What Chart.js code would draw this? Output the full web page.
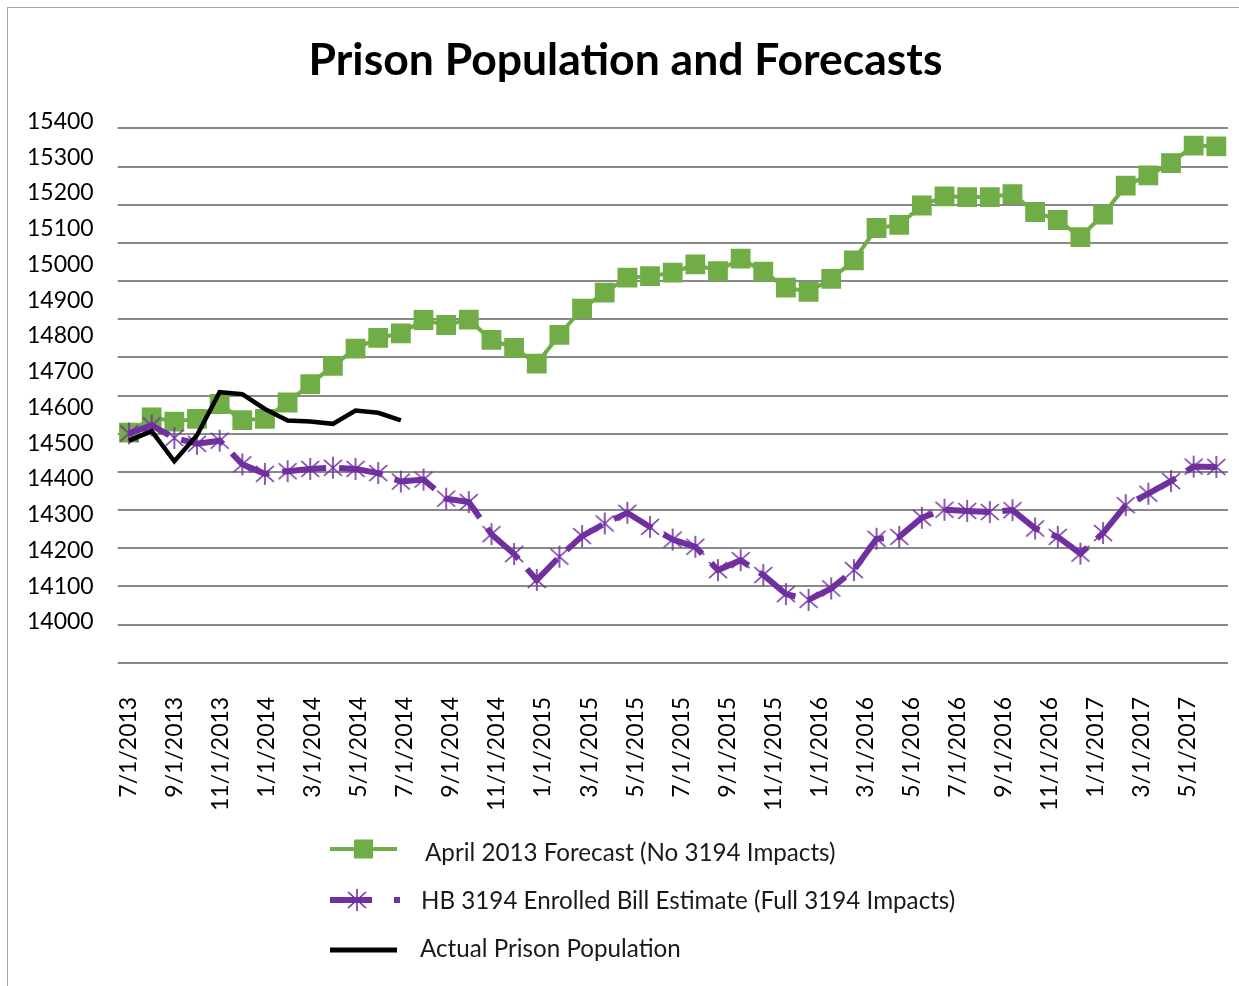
<!DOCTYPE html>
<html>
<head>
<meta charset="utf-8">
<script src="https://cdn.jsdelivr.net/npm/chart.js@4.4.1/dist/chart.umd.min.js"></script>
<style>
  body { margin: 0; background: #fff; overflow: hidden; font-family: Lato, sans-serif; }
  #wrap { position: relative; width: 1239px; height: 986px; overflow: hidden; }
  #frame { position: absolute; left: 7px; top: 7px; width: 1300px; height: 1100px; border: 1px solid #a6a6a6; }
  #chart { position: absolute; left: 0; top: 0; }
  .sample { position: absolute; left: 330px; }
  .legtext { position: absolute; height: 30px; line-height: 30px; font-size: 24.2px; color: #1a1a1a; white-space: nowrap; }
</style>
</head>
<body>
<div id="wrap">
  <div id="frame"></div>
  <canvas id="chart" width="1250" height="986"></canvas>

  <svg class="sample" style="top:834px" width="70" height="30">
    <line x1="0" y1="15" x2="67" y2="15" stroke="#70AD47" stroke-width="4"/>
    <rect x="24" y="5.5" width="19" height="19" fill="#70AD47"/>
  </svg>
  <div class="legtext" style="left:425px; top:837px">April 2013 Forecast (No 3194 Impacts)</div>

  <svg class="sample" style="top:885px" width="75" height="30">
    <line x1="0" y1="15" x2="42" y2="15" stroke="#7030A0" stroke-width="6"/>
    <line x1="27" y1="4" x2="27" y2="26" stroke="#7030A0" stroke-width="1.6"/>
    <line x1="18" y1="7" x2="36" y2="23" stroke="#7030A0" stroke-width="1.6"/>
    <line x1="36" y1="7" x2="18" y2="23" stroke="#7030A0" stroke-width="1.6"/>
    <rect x="64" y="12" width="6" height="6" fill="#7030A0"/>
  </svg>
  <div class="legtext" style="left:421px; top:885px">HB 3194 Enrolled Bill Estimate (Full 3194 Impacts)</div>

  <svg class="sample" style="top:935px" width="70" height="30">
    <line x1="0" y1="15" x2="67" y2="15" stroke="#000" stroke-width="5"/>
  </svg>
  <div class="legtext" style="left:420px; top:933px">Actual Prison Population</div>
</div>

<script>
const dates = [
  "7/1/2013", "8/1/2013", "9/1/2013", "10/1/2013", "11/1/2013", "12/1/2013",
  "1/1/2014", "2/1/2014", "3/1/2014", "4/1/2014", "5/1/2014", "6/1/2014",
  "7/1/2014", "8/1/2014", "9/1/2014", "10/1/2014", "11/1/2014", "12/1/2014",
  "1/1/2015", "2/1/2015", "3/1/2015", "4/1/2015", "5/1/2015", "6/1/2015",
  "7/1/2015", "8/1/2015", "9/1/2015", "10/1/2015", "11/1/2015", "12/1/2015",
  "1/1/2016", "2/1/2016", "3/1/2016", "4/1/2016", "5/1/2016", "6/1/2016",
  "7/1/2016", "8/1/2016", "9/1/2016", "10/1/2016", "11/1/2016", "12/1/2016",
  "1/1/2017", "2/1/2017", "3/1/2017", "4/1/2017", "5/1/2017", "6/1/2017",
  "7/1/2017"
];

// April 2013 forecast, no 3194 impacts
const forecast = [
  14603, 14643, 14632, 14639, 14678, 14636, 14639, 14682, 14730, 14778, 14823, 14851,
  14863, 14898, 14885, 14899, 14846, 14825, 14784, 14859, 14928, 14970, 15009, 15013,
  15022, 15044, 15026, 15059, 15025, 14983, 14972, 15006, 15054, 15139, 15147, 15198,
  15222, 15220, 15220, 15228, 15181, 15160, 15115, 15174, 15250, 15277, 15309, 15355,
  15353
];

// HB 3194 enrolled bill estimate
const hb3194 = [
  14601, 14622, 14589, 14574, 14582, 14520, 14495, 14502, 14508, 14511, 14508, 14497,
  14475, 14480, 14430, 14421, 14337, 14285, 14217, 14278, 14332, 14365, 14393, 14356,
  14323, 14304, 14243, 14269, 14230, 14180, 14165, 14195, 14243, 14325, 14330, 14380,
  14401, 14398, 14395, 14400, 14352, 14330, 14286, 14340, 14413, 14443, 14476, 14514,
  14513
];

// actual population, 7/2013 - 7/2014
const actual = [
  14582, 14607, 14528, 14596, 14709, 14704, 14665, 14635, 14632, 14626, 14661, 14655,
  14635
];

const yTicks = [14000, 14100, 14200, 14300, 14400, 14500, 14600, 14700, 14800, 14900,
  15000, 15100, 15200, 15300, 15400];

// asterisk marker like the Excel one
const star = document.createElement("canvas");
star.width = 24; star.height = 24;
const sc = star.getContext("2d");
sc.strokeStyle = "#7030A0";
sc.lineWidth = 1.6;
sc.beginPath();
sc.moveTo(12, 1); sc.lineTo(12, 23);
sc.moveTo(3, 4); sc.lineTo(21, 20);
sc.moveTo(21, 4); sc.lineTo(3, 20);
sc.stroke();

const tickFont = { family: "Lato", size: 23 };

new Chart(document.getElementById("chart"), {
  type: "line",
  data: {
    labels: dates,
    datasets: [
      {
        label: "Actual Prison Population",
        data: actual,
        borderColor: "#000",
        borderWidth: 4.5,
        pointRadius: 0,
        tension: 0,
        order: 0,
        xAxisID: "x", yAxisID: "y"
      },
      {
        label: "HB 3194 Enrolled Bill Estimate (Full 3194 Impacts)",
        data: hb3194,
        borderColor: "#7030A0",
        borderWidth: 6,
        borderDash: [44, 13],
        borderCapStyle: "butt",
        pointStyle: star,
        pointRadius: 12,
        tension: 0,
        order: 1,
        xAxisID: "x", yAxisID: "y"
      },
      {
        label: "April 2013 Forecast (No 3194 Impacts)",
        data: forecast,
        borderColor: "#70AD47",
        borderWidth: 4,
        pointStyle: "rect",
        pointRadius: 14,
        pointBackgroundColor: "#70AD47",
        pointBorderColor: "#70AD47",
        pointBorderWidth: 0,
        tension: 0,
        order: 2,
        xAxisID: "x", yAxisID: "y"
      }
    ]
  },
  options: {
    responsive: false,
    animation: false,
    layout: { padding: { left: 3, right: 2, top: 0, bottom: 141 } },
    plugins: {
      legend: { display: false },
      tooltip: { enabled: false },
      title: {
        display: true,
        text: "Prison Population and Forecasts",
        color: "#000",
        font: { family: "Lato", size: 44.5, weight: "bold" },
        padding: { top: 34, bottom: 34 }
      }
    },
    scales: {
      x: { type: "category", offset: true, display: false },
      xl: {
        type: "linear",
        position: "bottom",
        min: -0.478,
        max: 47.74,
        grid: { display: false, drawTicks: false },
        border: { display: false },
        ticks: {
          stepSize: 2,
          includeBounds: false,
          autoSkip: false,
          maxRotation: 90,
          minRotation: 90,
          padding: 34,
          color: "#000",
          font: tickFont,
          callback: v => dates[v]
        }
      },
      y: {
        position: "right",
        min: 14000,
        max: 15418.3,
        grid: { color: "#898989", lineWidth: 2, drawTicks: false },
        border: { display: false },
        ticks: { display: false, stepSize: 100, includeBounds: false, maxTicksLimit: 30 }
      },
      yl: {
        type: "linear",
        position: "left",
        min: 13885.7,
        max: 15400,
        grid: { display: false, drawTicks: false },
        border: { display: false },
        ticks: {
          stepSize: 100,
          includeBounds: false,
          autoSkip: false,
          maxTicksLimit: 30,
          padding: 24,
          color: "#000",
          font: tickFont,
          callback: v => yTicks.includes(v) ? String(v) : ""
        }
      }
    }
  }
});
</script>
</body>
</html>
